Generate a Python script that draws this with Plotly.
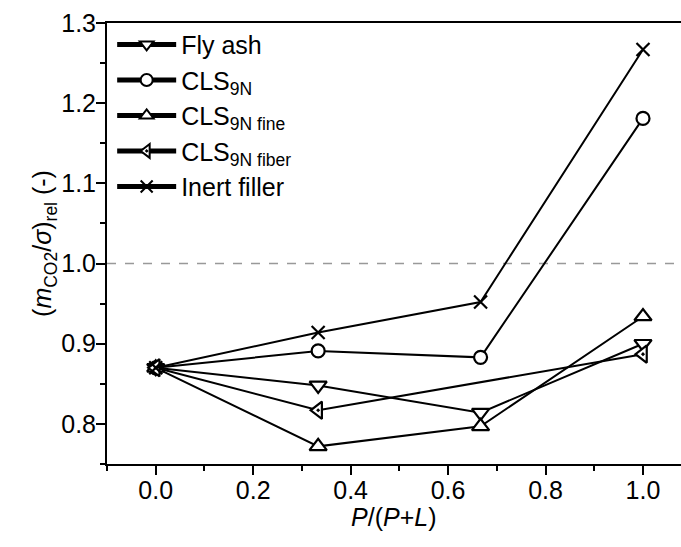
import plotly.graph_objects as go

# data
x4 = [0.0, 1/3, 2/3, 1.0]
x3 = [0.0, 1/3, 1.0]
fly_ash = [0.870, 0.848, 0.814, 0.900]
cls9n = [0.870, 0.891, 0.883, 1.181]
cls9n_fine = [0.870, 0.772, 0.797, 0.934]
cls9n_fiber = [0.870, 0.817, 0.887]
inert = [0.870, 0.914, 0.952, 1.267]

names = ["Fly ash", "CLS<sub>9N</sub>", "CLS<sub>9N fine</sub>",
         "CLS<sub>9N fiber</sub>", "Inert filler"]
xs = [x4, x4, x4, x3, x4]
ys = [fly_ash, cls9n, cls9n_fine, cls9n_fiber, inert]
symbols = ["triangle-down", "circle", "triangle-up",
           "triangle-left-dot", "x-thin-open"]
fills = ["white", "white", "white", "white", "black"]
sizes = [15, 13, 15, 15, 13]

FONT = "Arial, Liberation Sans, sans-serif"

fig = go.Figure()
for n, x, y, s, f, sz in zip(names, xs, ys, symbols, fills, sizes):
    fig.add_trace(go.Scatter(
        x=x, y=y, name=n, mode="lines+markers",
        line=dict(color="black", width=2),
        marker=dict(symbol=s, size=sz, color=f,
                    line=dict(color="black", width=2.2)),
    ))

fig.add_shape(type="line", xref="paper", x0=0, x1=1, yref="y", y0=1.0, y1=1.0,
              line=dict(color="#999999", width=1.5, dash="dash"), layer="below")

fig.add_annotation(text="<i>P</i>/(<i>P</i>+<i>L</i>)", xref="paper", yref="paper",
                   x=0.5, y=-53/441, xanchor="center", yanchor="middle",
                   showarrow=False, font=dict(size=25))

fig.update_layout(
    width=681, height=547,
    margin=dict(l=107, r=0, t=23, b=83),
    paper_bgcolor="white", plot_bgcolor="white",
    font=dict(family=FONT, size=25, color="black"),
    showlegend=True,
    legend=dict(x=0.009, y=1.003, xanchor="left", yanchor="top",
                bgcolor="rgba(0,0,0,0)", font=dict(size=25),
                tracegroupgap=0, itemwidth=59, itemsizing="constant"),
    xaxis=dict(range=[-0.1, 1.078], tickmode="linear", tick0=0, dtick=0.2,
               tickformat=".1f", showline=True, linecolor="black", linewidth=2,
               mirror=True, ticks="outside", ticklen=9, tickwidth=2,
               tickcolor="black", showgrid=False, zeroline=False, automargin=False,
               ticklabelstandoff=-6,
               minor=dict(dtick=0.1, tick0=0, ticks="outside", ticklen=5,
                          tickwidth=2, tickcolor="black", showgrid=False)),
    yaxis=dict(range=[0.75, 1.3], tickmode="linear", tick0=0.8, dtick=0.1,
               tickformat=".1f", showline=True, linecolor="black", linewidth=2,
               mirror=False, ticks="outside", ticklen=9, tickwidth=2,
               tickcolor="black", showgrid=False, zeroline=False, automargin=False,
               ticklabelstandoff=-5,
               minor=dict(dtick=0.05, tick0=0.75, ticks="outside", ticklen=5,
                          tickwidth=2, tickcolor="black", showgrid=False),
               title=dict(text="(<i>m</i><sub>CO2</sub>/<i>σ</i>)<sub>rel</sub> (-)",
                          standoff=2, font=dict(size=25))),
)

fig.write_html("out.html", config={"displayModeBar": False},
               post_script="document.body.style.margin='0';document.body.style.overflow='hidden';")
